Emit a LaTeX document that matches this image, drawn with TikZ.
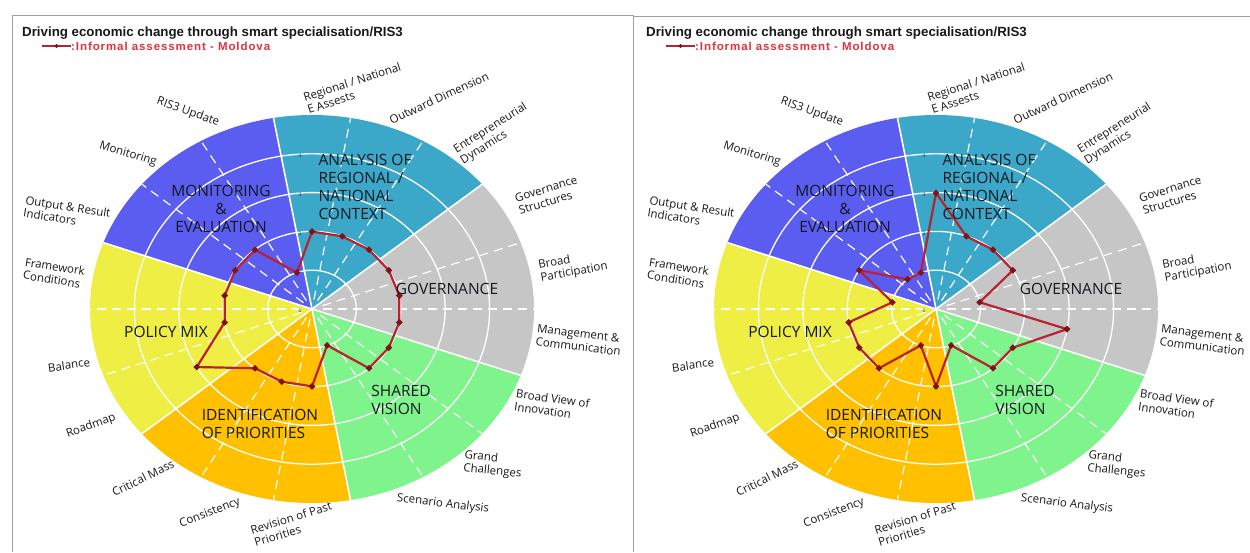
\documentclass[tikz,border=0pt]{standalone}
\usepackage{fontspec}
\usepackage{tikz}
\usetikzlibrary{shapes.geometric}
\setmainfont{Open Sans}
\newfontfamily\arialfont{Liberation Sans}
\newfontfamily\legendfont[LetterSpace=8]{Liberation Sans}
\definecolor{wheelteal}{HTML}{3BA7C9}
\definecolor{wheelblue}{HTML}{5B5CF0}
\definecolor{wheelgrey}{HTML}{C6C6C6}
\definecolor{wheelgreen}{HTML}{7FF38C}
\definecolor{wheelorange}{HTML}{FFC000}
\definecolor{wheelyellow}{HTML}{EEEE44}
\definecolor{datared}{HTML}{B8232F}
\definecolor{datadark}{HTML}{7B1518}
\definecolor{legendred}{HTML}{E2333D}
\definecolor{sectorink}{HTML}{15191F}
\definecolor{frameline}{HTML}{A0A0A0}
\newcommand{\rispanel}[3]{%
\begin{scope}[xshift=#1]
  % title and legend
  \node[titletext, anchor=west] (#2title) at (22,519) {Driving economic change through smart specialisation/RIS3};
  \coordinate (#2legA) at (42,506);
  \coordinate (#2legB) at (71,506);
  \draw[dataline, line width=1.6pt] (#2legA) -- (#2legB) node[datamark, midway, minimum size=5pt] (#2legmark) {};
  \node[legendtext, anchor=west] (#2legend) at (#2legB) {:Informal assessment - Moldova};
  % wheel
  \begin{scope}[shift={(312,243)}, xscale=44.4, yscale=38.8]
    \foreach \a/\c in {40/wheelteal,-20/wheelgrey,-80/wheelgreen,-140/wheelorange,160/wheelyellow,100/wheelblue}
      \fill[\c] (0,0) -- (\a:5) arc[start angle=\a, end angle=\a+60, radius=5] -- cycle;
    \foreach \r in {1,...,4} \draw[ring] (0,0) circle[radius=\r];
    \foreach \a in {0,20,60,80,120,140,180,200,240,260,300,320} \draw[spoke] (\a:0.25) -- (\a:5);
    \foreach \a in {40,100,...,340} \draw[border] (0,0) -- (\a:5);
    \foreach \k in {0,...,4} \node[ticktext] (#2tick\k) at (-0.27,\k-0.05) {\k};
    \foreach \v [count=\i from 0] in {#3} \coordinate (#2p\i) at ({90-20*\i}:\v);
    \draw[dataline] (#2p0) \foreach \i in {1,...,17} {-- (#2p\i)} -- cycle;
    \foreach \i in {0,...,17} \node[datamark] (#2m\i) at (#2p\i) {};
  \end{scope}
  % sector names
  \node[sectortext, align=left] (#2analysis) at (365,365) {ANALYSIS OF\\REGIONAL /\\NATIONAL\\CONTEXT};
  \node[sectortext, align=center] (#2monitoring) at (221,343) {MONITORING\\\&\\EVALUATION};
  \node[sectortext] (#2governance) at (447,263) {GOVERNANCE};
  \node[sectortext] (#2policy) at (166,220) {POLICY MIX};
  \node[sectortext, align=left] (#2priorities) at (260,128) {IDENTIFICATION\\OF PRIORITIES};
  \node[sectortext, align=left] (#2vision) at (401,152) {SHARED\\VISION};
  % dimension labels
  \node[axislabel, rotate=-20] (#2update) at (188,440) {RIS3 Update};
  \node[axislabel, rotate=18] (#2assets) at (354,464) {Regional / National\\E Assests};
  \node[axislabel, rotate=25] (#2outward) at (439,454) {Outward Dimension};
  \node[axislabel, rotate=32] (#2entre) at (494,418) {Entrepreneurial\\Dynamics};
  \node[axislabel, rotate=17] (#2structures) at (548,357) {Governance\\Structures};
  \node[axislabel, rotate=10] (#2participation) at (573,286) {Broad\\Participation};
  \node[axislabel, rotate=-7] (#2management) at (579,212) {Management \&\\Communication};
  \node[axislabel, rotate=-8] (#2broadview) at (552,147) {Broad View of\\Innovation};
  \node[axislabel, rotate=-6] (#2grand) at (493,87) {Grand\\Challenges};
  \node[axislabel, rotate=-7] (#2scenario) at (443,48) {Scenario Analysis};
  \node[axislabel, rotate=17] (#2revision) at (293,28) {Revision of Past\\Priorities};
  \node[axislabel, rotate=21] (#2consistency) at (210,39) {Consistency};
  \node[axislabel, rotate=26] (#2critical) at (143,74) {Critical Mass};
  \node[axislabel, rotate=20] (#2roadmap) at (91,126) {Roadmap};
  \node[axislabel, rotate=8] (#2balance) at (69,187) {Balance};
  \node[axislabel, rotate=-9] (#2framework) at (54,279) {Framework\\Conditions};
  \node[axislabel, rotate=-9] (#2output) at (67,339) {Output \& Result\\Indicators};
  \node[axislabel, rotate=-17] (#2monit) at (128,398) {Monitoring};
\end{scope}}

\begin{document}
\begin{tikzpicture}[
  x=1pt, y=1pt,
  every node/.style={inner sep=0pt},
  titletext/.style={font=\arialfont\bfseries\fontsize{13.3}{15}\selectfont, text=black!90},
  legendtext/.style={font=\legendfont\bfseries\fontsize{11.5}{13}\selectfont, text=legendred},
  sectortext/.style={font=\fontsize{15.5}{18}\selectfont, text=sectorink},
  axislabel/.style={font=\fontsize{11.5}{13}\selectfont, text=black!90, align=left},
  ticktext/.style={font=\fontsize{5}{6}\selectfont, text=black!80},
  ring/.style={draw=white, line width=1.3pt},
  spoke/.style={draw=white, line width=1.2pt, dash pattern=on 9pt off 6pt},
  border/.style={draw=white, line width=1.6pt},
  dataline/.style={draw=datared, line width=2.2pt, line join=round},
  datamark/.style={diamond, fill=datadark, minimum size=7pt},
  frame/.style={draw=frameline, line width=0.8pt}
]
\fill[white] (0,0) rectangle (1250,552);
\useasboundingbox (0,0) rectangle (1250,552);

\rispanel{0pt}{L}{2,2,2,2,2,2,2,2,1,2,2,2,3,2,2,2,2,1}
\rispanel{624pt}{R}{3,2,2,2,1,3,2,2,1,2,1,2,2,2,1,2,1,1}

\draw[frame] (12,0) -- (12,537) -- (633,537) -- (633,0);
\draw[frame] (633,536) -- (1250,536);

\end{tikzpicture}
\end{document}
